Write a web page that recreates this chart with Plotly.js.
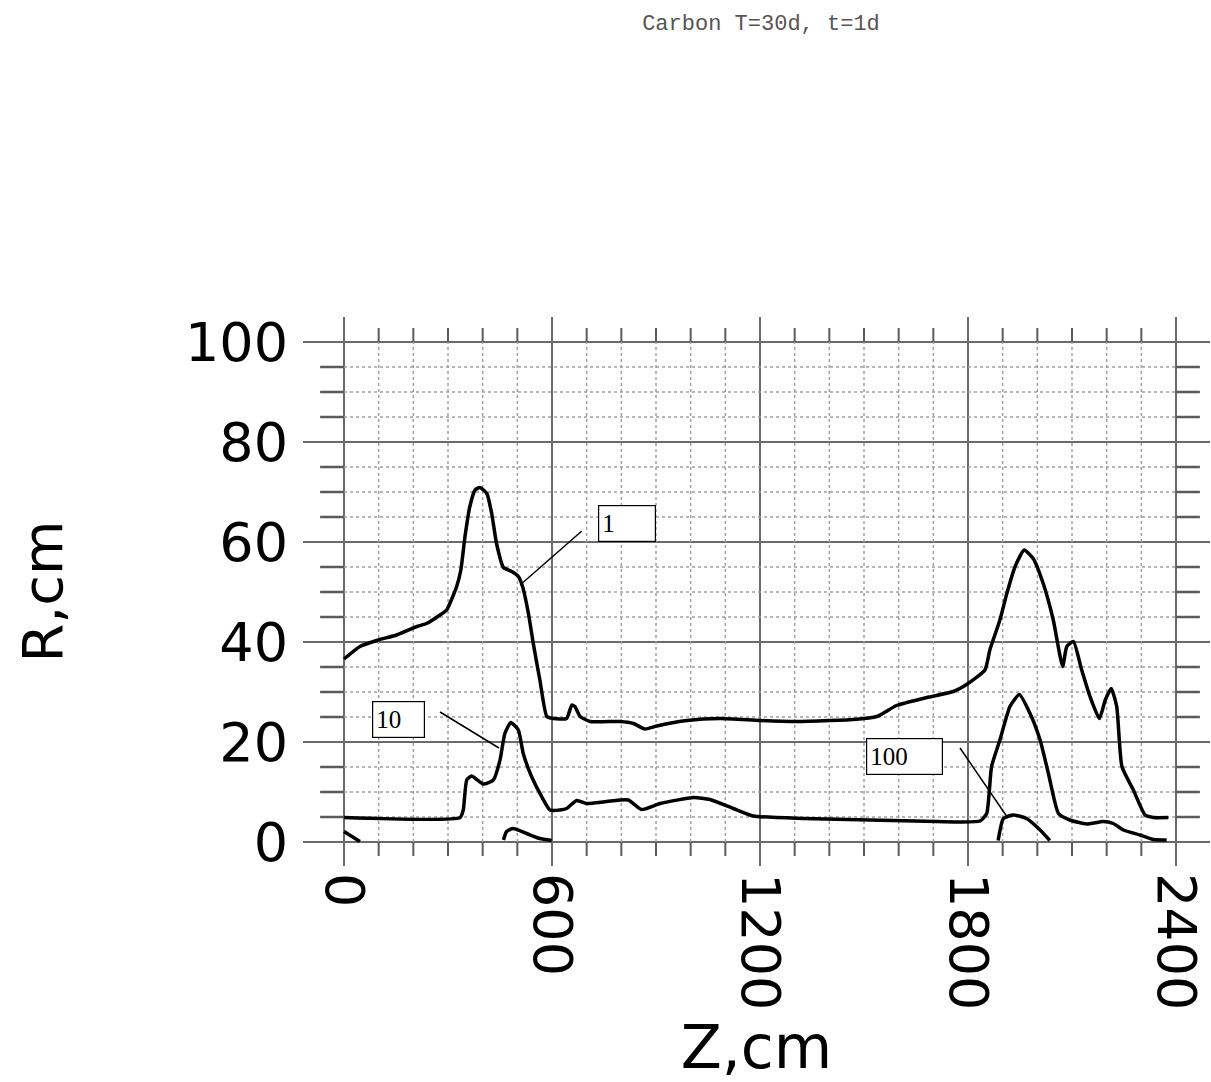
<!DOCTYPE html>
<html>
<head>
<meta charset="utf-8">
<script src="https://cdn.plot.ly/plotly-3.0.1.min.js"></script>
<style>html,body{margin:0;padding:0;background:#fff;}#chart{width:1211px;height:1082px;}</style>
</head>
<body>
<div id="chart"></div>
<script>
// ---- data ----
const z1 = [0, 46, 99, 152, 210, 238, 277, 296, 325, 337, 349, 363, 378, 392, 412, 426, 440, 460, 484, 503, 515, 532, 546, 565, 585, 604, 642, 657, 666, 681, 710, 796, 835, 868, 902, 989, 1085, 1200, 1296, 1469, 1537, 1594, 1681, 1758, 1798, 1849, 1863, 1892, 1912, 1936, 1962, 1988, 2017, 2046, 2073, 2085, 2104, 2128, 2152, 2179, 2196, 2213, 2229, 2244, 2277, 2311, 2335, 2378];
const r1 = [36.6, 39.1, 40.4, 41.4, 43.1, 43.7, 45.4, 46.4, 51.1, 54.4, 61.1, 67.1, 70.4, 70.9, 69.7, 65.7, 59.7, 54.9, 54.1, 53.1, 51.1, 45.7, 39.7, 32.4, 25.1, 24.7, 24.7, 27.4, 27.1, 25.1, 24.1, 24.1, 23.7, 22.6, 23.2, 24.3, 24.7, 24.3, 24.1, 24.5, 25.1, 27.3, 28.9, 30.1, 31.6, 34.4, 38.4, 44.4, 49.7, 55.1, 58.4, 56.7, 51.7, 44.4, 35.1, 39.1, 40.1, 34.4, 29.1, 24.7, 28.4, 30.7, 27.1, 15.1, 10.4, 5.4, 4.9, 4.9];

const z10 = [0, 335, 344, 354, 368, 402, 431, 450, 464, 481, 503, 517, 541, 570, 594, 623, 642, 671, 700, 758, 820, 858, 912, 1008, 1056, 1123, 1181, 1325, 1517, 1710, 1835, 1854, 1868, 1892, 1921, 1948, 1979, 2008, 2032, 2061, 2094, 2142, 2190, 2219, 2248, 2296, 2335, 2373];
const r10 = [4.9, 4.9, 6.4, 12.4, 13.2, 11.6, 12.4, 16.4, 21.7, 23.9, 22.4, 17.7, 13.1, 9.1, 6.4, 6.4, 6.7, 8.3, 7.7, 8.1, 8.4, 6.5, 7.7, 8.9, 8.5, 6.7, 5.2, 4.7, 4.4, 4.1, 4.2, 5.7, 15.1, 20.4, 27.1, 29.5, 25.7, 20.4, 13.7, 5.7, 4.4, 3.6, 4.1, 3.7, 2.4, 1.4, 0.5, 0.4];

const z100 = [0, 46, null, 460, 469, 488, 527, 565, 599, null, 1887, 1902, 1931, 1969, 2008, 2036];
const r100 = [2.1, 0.1, null, 0.4, 2.1, 2.7, 1.7, 0.7, 0.3, null, 0.3, 4.7, 5.4, 4.7, 2.4, 0.3];

const xTickVals = [0, 600, 1200, 1800, 2400];
const xTickText = ['0', '600', '1200', '1800', '2400'];
const yTickVals = [0, 20, 40, 60, 80, 100];
const yTickText = ['0', '20', '40', '60', '80', '100'];

const curveLabels = ['1', '10', '100'];
const chartTitle = 'Carbon T=30d, t=1d';

// ---- grid, drawn as layout shapes ----
const shapes = [];
const majorColor = '#6a6a6a', minorColor = '#a0a0a0', tickColor = '#5a5a5a';
for (let x = 0; x <= 2400; x += 100) {
  if (x % 600 === 0) {
    shapes.push({type: 'line', layer: 'below', xref: 'x', yref: 'paper', x0: x, x1: x, y0: 0, y1: 1,
      line: {color: majorColor, width: 2}});
  } else {
    shapes.push({type: 'line', layer: 'below', xref: 'x', yref: 'y', x0: x, x1: x, y0: 0, y1: 100,
      line: {color: minorColor, width: 1.5, dash: 'dot'}});
    shapes.push({type: 'line', layer: 'below', xref: 'x', yref: 'y', x0: x, x1: x, y0: 100, y1: 102.8,
      line: {color: tickColor, width: 2}});
    shapes.push({type: 'line', layer: 'below', xref: 'x', yref: 'y', x0: x, x1: x, y0: 0, y1: -2.8,
      line: {color: tickColor, width: 2}});
  }
}
for (let y = 0; y <= 100; y += 5) {
  if (y % 20 === 0) {
    shapes.push({type: 'line', layer: 'below', xref: 'paper', yref: 'y', x0: 0, x1: 1, y0: y, y1: y,
      line: {color: majorColor, width: 2}});
  } else {
    shapes.push({type: 'line', layer: 'below', xref: 'x', yref: 'y', x0: 0, x1: 2400, y0: y, y1: y,
      line: {color: minorColor, width: 1.5, dash: 'dot'}});
    shapes.push({type: 'line', layer: 'below', xref: 'x', yref: 'y', x0: -69, x1: 0, y0: y, y1: y,
      line: {color: tickColor, width: 2.5}});
    shapes.push({type: 'line', layer: 'below', xref: 'x', yref: 'y', x0: 2400, x1: 2469, y0: y, y1: y,
      line: {color: tickColor, width: 2.5}});
  }
}
// leader lines from the label boxes to the curves
const leaders = [
  [686, 62.2, 508, 51.4],
  [277, 26.0, 447, 18.8],
  [1777, 18.8, 1915, 4.8]
];
leaders.forEach(l => shapes.push({type: 'line', layer: 'above', xref: 'x', yref: 'y',
  x0: l[0], y0: l[1], x1: l[2], y1: l[3], line: {color: '#000', width: 1.5}}));

const boxFont = {family: 'Liberation Serif, Times New Roman, serif', size: 25, color: '#000'};
function box(text, x, y, w) {
  return {text: text, xref: 'x', yref: 'y', x: x, y: y, showarrow: false, align: 'left',
    width: w, height: 29, borderpad: 3, bordercolor: '#000', borderwidth: 1.2, bgcolor: '#fff', font: boxFont};
}
const annotations = [
  box(curveLabels[0], 816, 63.7, 50),
  box(curveLabels[1], 157, 24.6, 45),
  box(curveLabels[2], 1617, 17.1, 69)
];

const lineStyle = {color: '#000', width: 3.5, shape: 'spline', smoothing: 0.5};
const traces = [
  {x: z1, y: r1, type: 'scatter', mode: 'lines', name: curveLabels[0], line: lineStyle},
  {x: z10, y: r10, type: 'scatter', mode: 'lines', name: curveLabels[1], line: lineStyle},
  {x: z100, y: r100, type: 'scatter', mode: 'lines', name: curveLabels[2], line: lineStyle, connectgaps: false}
];

const layout = {
  width: 1211, height: 1082,
  margin: {l: 303, r: 1, t: 317, b: 216},
  paper_bgcolor: '#fff', plot_bgcolor: '#fff',
  showlegend: false,
  title: {text: chartTitle, xref: 'container', x: 761 / 1211, yref: 'container', y: 1 - 22 / 1082,
    xanchor: 'center', yanchor: 'middle',
    font: {family: 'Liberation Mono, Courier New, monospace', size: 22, color: '#555'}},
  xaxis: {
    range: [-118.3, 2498.1], showgrid: false, zeroline: false, showline: false, ticks: '',
    tickmode: 'array', tickvals: xTickVals, ticktext: xTickText, tickangle: 90, ticklabelstandoff: 6,
    tickfont: {family: 'DejaVu Sans, sans-serif', size: 54, color: '#000'},
    title: {text: 'Z,cm', standoff: 26, font: {family: 'DejaVu Sans, sans-serif', size: 60, color: '#000'}}
  },
  yaxis: {
    range: [-4.8, 105], showgrid: false, zeroline: false, showline: false, ticks: '',
    tickmode: 'array', tickvals: yTickVals, ticktext: yTickText, ticklabelstandoff: 14,
    tickfont: {family: 'DejaVu Sans, sans-serif', size: 54, color: '#000'},
    title: {text: 'R,cm', standoff: 104, font: {family: 'DejaVu Sans, sans-serif', size: 56, color: '#000'}}
  },
  shapes: shapes,
  annotations: annotations
};

Plotly.newPlot('chart', traces, layout, {displayModeBar: false, staticPlot: true});
</script>
</body>
</html>
